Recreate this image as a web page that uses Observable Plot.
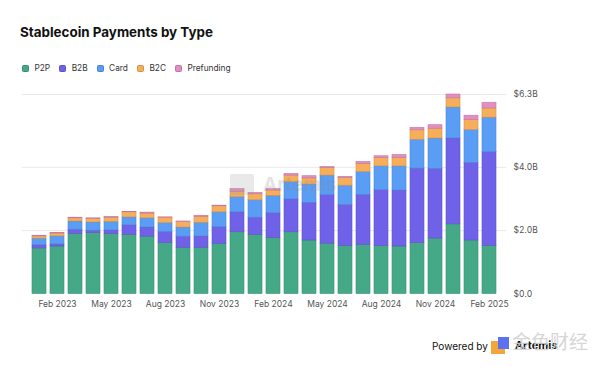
<!DOCTYPE html>
<html>
<head>
<meta charset="utf-8">
<script src="https://cdn.jsdelivr.net/npm/d3@7"></script>
<script src="https://cdn.jsdelivr.net/npm/@observablehq/plot@0.6"></script>
<style>
  html, body { margin: 0; padding: 0; background: #fff; }
  body { width: 600px; height: 367px; position: relative; overflow: hidden; font-family: Inter, "Noto Sans", sans-serif; }
  #title { position: absolute; left: 20px; top: 26px; font: 700 13.4px/1 Inter, sans-serif; color: #111; }
  #legend { position: absolute; left: 22px; top: 64px; display: flex; align-items: center; font: 400 8.3px/1 Inter, sans-serif; color: #333; }
  #legend .item { display: flex; align-items: center; margin-right: 9px; }
  #legend .sw { width: 7px; height: 7px; border-radius: 1.5px; margin-right: 5.5px; box-sizing: border-box; }
  #chart { position: absolute; left: 0; top: 80px; }
  #wm { position: absolute; left: 230px; top: 174px; display: flex; align-items: center; opacity: 0.22; pointer-events: none; }
  #wm .logo { width: 24px; height: 21px; background: #9a9a9a; border-radius: 2px; margin-right: 9px; }
  #wm .txt { font: 700 19px/1 Inter, sans-serif; color: #888; }
  #powered { position: absolute; left: 432px; top: 337px; display: flex; align-items: center; font: 400 10px/1 Inter, sans-serif; color: #111; }
  #powered .logo { width: 20px; height: 17px; margin-left: 3px; margin-right: 4px; position: relative; }
  #powered .logo .o { position: absolute; left: 0; top: 4px; width: 14px; height: 13px; background: #f4a63a; }
  #powered .logo .b { position: absolute; left: 7px; top: 0; width: 11px; height: 12px; background: #5a72f0; }
  #powered .brand { font: 700 11px/1 Inter, sans-serif; color: #111; }
  #jinse { position: absolute; left: 512px; top: 331px; font: 400 19px/1 "Noto Sans CJK SC", sans-serif; color: #d0d0d0; opacity: 0.85; }
</style>
</head>
<body>
<div id="title">Stablecoin Payments by Type</div>
<div id="legend"></div>
<div id="chart"></div>
<div id="wm"><div class="logo"></div><div class="txt">Artemis</div></div>
<div id="powered"><span>Powered by</span><span class="logo"><span class="o"></span><span class="b"></span></span><span class="brand">Artemis</span></div>
<div id="jinse">金色财经</div>
<script>
const months = ["Jan 2023","Feb 2023","Mar 2023","Apr 2023","May 2023","Jun 2023","Jul 2023","Aug 2023","Sep 2023","Oct 2023","Nov 2023","Dec 2023",
                "Jan 2024","Feb 2024","Mar 2024","Apr 2024","May 2024","Jun 2024","Jul 2024","Aug 2024","Sep 2024","Oct 2024","Nov 2024","Dec 2024",
                "Jan 2025","Feb 2025"];
// values in $ billions
const p2p        = [1.44,1.50,1.90,1.92,1.89,1.87,1.81,1.61,1.46,1.46,1.58,1.95,1.87,1.77,1.95,1.69,1.59,1.51,1.55,1.51,1.50,1.61,1.75,2.20,1.69,1.52];
const b2b        = [0.10,0.07,0.13,0.08,0.12,0.30,0.29,0.35,0.35,0.36,0.53,0.63,0.54,0.78,1.04,1.19,1.53,1.30,1.58,1.77,1.77,2.35,2.20,2.71,2.45,2.96];
const card       = [0.21,0.25,0.26,0.26,0.27,0.25,0.29,0.28,0.29,0.43,0.47,0.48,0.55,0.55,0.54,0.58,0.62,0.61,0.72,0.75,0.76,0.91,0.96,0.98,1.04,1.09];
const b2c        = [0.07,0.09,0.10,0.11,0.13,0.16,0.15,0.17,0.17,0.19,0.19,0.17,0.19,0.17,0.21,0.19,0.24,0.24,0.26,0.26,0.26,0.30,0.31,0.29,0.31,0.29];
const prefunding = [0.02,0.02,0.02,0.02,0.02,0.01,0.03,0.01,0.02,0.03,0.02,0.08,0.04,0.04,0.05,0.07,0.03,0.04,0.06,0.06,0.10,0.08,0.11,0.12,0.14,0.18];

const types  = ["P2P","B2B","Card","B2C","Prefunding"];
const series = [p2p, b2b, card, b2c, prefunding];
const colors = ["#45a886","#7061e9","#5a9df5","#f6ae5b","#e38dc0"];

const xTicks = ["Feb 2023","May 2023","Aug 2023","Nov 2023","Feb 2024","May 2024","Aug 2024","Nov 2024","Feb 2025"];
const yTicks = [0, 2, 4, 6.3];
const yTickLabels = ["$0.0","$2.0B","$4.0B","$6.3B"];

// legend
const legend = document.getElementById("legend");
types.forEach((t, i) => {
  const it = document.createElement("div"); it.className = "item";
  const sw = document.createElement("div"); sw.className = "sw";
  sw.style.background = colors[i];
  sw.style.border = "0.6px solid " + d3.color(colors[i]).darker(0.5);
  const lb = document.createElement("span"); lb.textContent = t;
  it.appendChild(sw); it.appendChild(lb); legend.appendChild(it);
});

// long table
const table = [];
months.forEach((m, j) => {
  types.forEach((t, i) => {
    table.push({month: m, type: t, value: series[i][j], fill: colors[i], stroke: d3.color(colors[i]).darker(0.45).formatHex()});
  });
});

const chart = Plot.plot({
  width: 600,
  height: 240,
  marginTop: 14,
  marginBottom: 26.5,
  marginLeft: 22,
  marginRight: 94,
  style: {fontFamily: "Inter, sans-serif", fontSize: "8.5px", color: "#555", background: "transparent"},
  x: {domain: months, paddingInner: 0.22, paddingOuter: 0.11, label: null},
  y: {domain: [0, 6.3], label: null},
  color: {type: "identity"},
  marks: [
    Plot.ruleY(yTicks.filter(d => d > 0), {stroke: "#e9e9e9", strokeWidth: 1}),
    Plot.barY(table, {x: "month", y: "value", z: "type", fill: "fill", stroke: "stroke", strokeWidth: 0.6, order: null}),
    Plot.axisX({ticks: xTicks, tickSize: 0, tickPadding: 7, tickFormat: d => d, label: null}),
    Plot.axisY({anchor: "right", ticks: yTicks, tickSize: 0, tickPadding: 7, tickFormat: d => yTickLabels[yTicks.indexOf(d)], label: null})
  ]
});
document.getElementById("chart").appendChild(chart);
</script>
</body>
</html>
